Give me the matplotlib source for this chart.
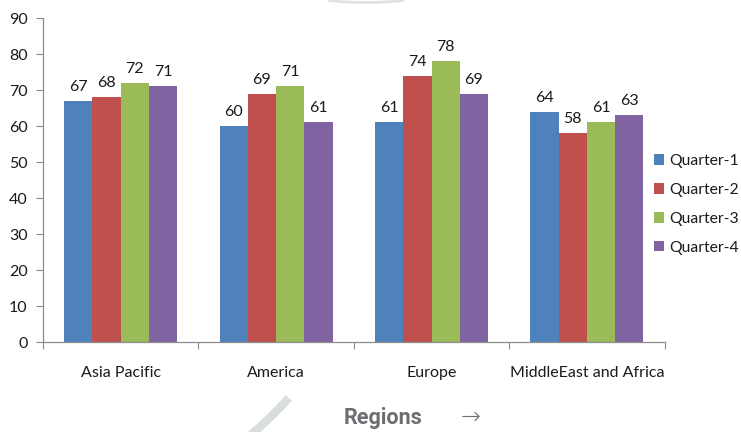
import numpy as np
import matplotlib.pyplot as plt
from matplotlib.lines import Line2D

# dados do grafico
regions = ['Asia Pacific', 'America', 'Europe', 'MiddleEast and Africa']
quarters = ['Quarter-1', 'Quarter-2', 'Quarter-3', 'Quarter-4']
q1 = [67, 60, 61, 64]
q2 = [68, 69, 74, 58]
q3 = [72, 71, 78, 61]
q4 = [71, 61, 69, 63]
yticks = list(range(0, 100, 10))

COLORS = ['#4F81BD', '#C0504D', '#9BBB59', '#8064A2']
AXIS_GREY = '#8c8c8c'
FONT = 'Lato'
FS = 11.5

fig = plt.figure(figsize=(7.41, 4.32), dpi=100)
ax = fig.add_axes([0.058, 0.2083, 0.839, 0.75])

# marca d'agua (pedacos do anel cinza)
top_x = np.linspace(329, 403, 30)
top_y = 432 - (0.5 + 2 * (1 - ((top_x - 366) / 37) ** 2))
fig.add_artist(Line2D(top_x / 741, top_y / 432, color='#dde3e0', lw=2,
                      transform=fig.transFigure, zorder=0))
bot_t = np.linspace(0, 1, 30)
bot_x = 286 - 28 * bot_t - 4 * bot_t ** 2
bot_y = 432 - (401 + 31 * bot_t)
fig.add_artist(Line2D(bot_x / 741, bot_y / 432, color='#d8dfdb', lw=6,
                      transform=fig.transFigure, zorder=0))

x = np.arange(len(regions))
width = 1 / 5.5
series = [q1, q2, q3, q4]
for k, vals in enumerate(series):
    pos = x + (k - 1.5) * width
    bars = ax.bar(pos, vals, width, color=COLORS[k], label=quarters[k], zorder=2)
    ax.bar_label(bars, labels=[str(v) for v in vals], padding=5,
                 fontsize=FS, family=FONT, color='#1a1a1a')

ax.set_xlim(-0.5, len(regions) - 0.5)
ax.set_ylim(0, 90)
ax.set_yticks(yticks)
ax.set_yticklabels([str(t) for t in yticks], fontsize=FS, family=FONT, color='#1a1a1a')

# ticks do eixo x nas fronteiras das categorias
ax.set_xticks(np.arange(-0.5, len(regions)), minor=False)
ax.set_xticklabels([])
ax.set_xticks(x, minor=True)
ax.set_xticklabels(regions, minor=True, fontsize=FS, family=FONT, color='#1a1a1a')
ax.tick_params(axis='x', which='minor', length=0, pad=17)
ax.tick_params(axis='x', which='major', length=5, color=AXIS_GREY, direction='out')
ax.tick_params(axis='y', length=5, color=AXIS_GREY, direction='out', pad=6)

for side in ['top', 'right']:
    ax.spines[side].set_visible(False)
for side in ['left', 'bottom']:
    ax.spines[side].set_color(AXIS_GREY)
    ax.spines[side].set_linewidth(0.9)

leg = fig.legend(loc='upper left', bbox_to_anchor=(0.874, 0.658), frameon=False,
                 handlelength=0.65, handleheight=0.65, handletextpad=0.35,
                 labelspacing=0.95, borderaxespad=0,
                 prop={'family': FONT, 'size': 11.3})
for t in leg.get_texts():
    t.set_color('#1a1a1a')

fig.text(0.517, 0.008, 'Regions', ha='center', va='bottom', fontsize=15.5,
         fontweight='bold', family='Roboto', color='#6d6e71')
fig.text(0.635, 0.008, '→', ha='center', va='bottom', fontsize=17,
         family='DejaVu Sans', color='#6d6e71', fontweight='light')

fig.savefig('out.png', dpi=100)
